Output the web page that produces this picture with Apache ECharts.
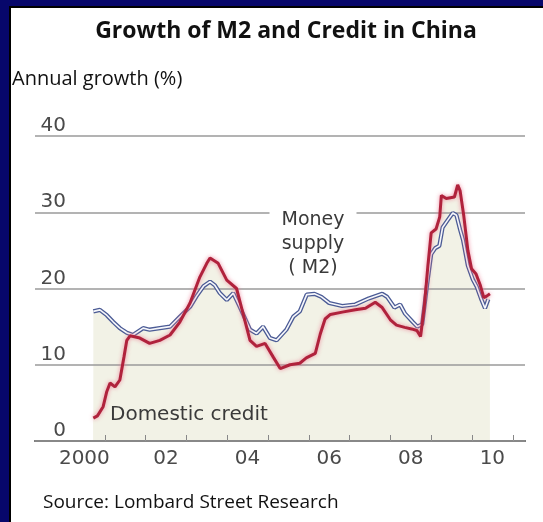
<!DOCTYPE html>
<html>
<head>
<meta charset="utf-8">
<script src="https://cdn.jsdelivr.net/npm/echarts@6/dist/echarts.min.js"></script>
<style>
  html, body { margin: 0; padding: 0; background: #fff; }
  #chart { width: 543px; height: 522px; }
</style>
</head>
<body>
<div id="chart"></div>
<script>
// Money supply (M2), annual growth %, by fractional year
const m2Dates = [2000.72, 2000.88, 2001.05, 2001.21, 2001.37, 2001.54, 2001.69, 2001.94, 2002.10, 2002.35,
  2002.60, 2002.84, 2003.09, 2003.25, 2003.42, 2003.58, 2003.70, 2003.82, 2003.99, 2004.15,
  2004.31, 2004.56, 2004.72, 2004.88, 2005.05, 2005.21, 2005.45, 2005.62, 2005.78, 2005.95,
  2006.14, 2006.31, 2006.50, 2006.82, 2007.14, 2007.47, 2007.80, 2007.92, 2008.10, 2008.24,
  2008.36, 2008.55, 2008.66, 2008.78, 2008.90, 2009.00, 2009.10, 2009.20, 2009.28, 2009.41,
  2009.53, 2009.62, 2009.71, 2009.78, 2009.90, 2010.02, 2010.12, 2010.22, 2010.32, 2010.40];
const m2Growth = [17.0, 17.2, 16.5, 15.6, 14.8, 14.2, 13.9, 14.8, 14.6, 14.8,
  15.0, 16.3, 17.6, 19.0, 20.3, 20.9, 20.4, 19.4, 18.5, 19.4,
  17.6, 14.6, 14.1, 15.0, 13.5, 13.2, 14.6, 16.3, 17.0, 19.2,
  19.3, 18.9, 18.1, 17.7, 17.9, 18.7, 19.3, 18.9, 17.5, 17.9,
  16.7, 15.6, 15.0, 15.3, 20.5, 24.5, 25.3, 25.6, 28.0, 29.0,
  29.9, 29.6, 27.7, 26.4, 23.0, 21.2, 20.2, 18.7, 17.4, 18.6];

// Domestic credit, annual growth %
const creditDates = [2000.72, 2000.82, 2000.96, 2001.05, 2001.13, 2001.25, 2001.37, 2001.47, 2001.54, 2001.62,
  2001.86, 2002.10, 2002.35, 2002.60, 2002.84, 2003.09, 2003.33, 2003.50, 2003.58, 2003.78,
  2003.99, 2004.23, 2004.39, 2004.56, 2004.72, 2004.93, 2005.13, 2005.30, 2005.54, 2005.78,
  2005.94, 2006.16, 2006.28, 2006.40, 2006.53, 2006.82, 2007.14, 2007.39, 2007.63, 2007.80,
  2008.00, 2008.15, 2008.35, 2008.52, 2008.65, 2008.74, 2008.83, 2008.92, 2009.00, 2009.12,
  2009.21, 2009.25, 2009.37, 2009.57, 2009.65, 2009.71, 2009.80, 2009.90, 2009.99, 2010.10,
  2010.20, 2010.29, 2010.36, 2010.44];
const creditGrowth = [3.0, 3.3, 4.5, 6.5, 7.6, 7.1, 8.0, 11.0, 13.2, 13.8,
  13.5, 12.8, 13.2, 13.9, 15.6, 18.1, 21.5, 23.3, 24.0, 23.3,
  21.1, 20.0, 16.7, 13.2, 12.4, 12.8, 11.0, 9.5, 10.0, 10.2,
  10.9, 11.5, 14.0, 16.0, 16.6, 16.9, 17.2, 17.4, 18.2, 17.5,
  15.9, 15.2, 14.9, 14.7, 14.5, 13.7, 17.5, 23.0, 27.3, 27.8,
  29.4, 32.2, 31.8, 32.0, 33.6, 32.8, 29.5, 25.0, 22.6, 21.9,
  20.5, 18.8, 19.0, 19.3];

// Axis labels
const yearLabelYears = [2000, 2002, 2004, 2006, 2008, 2010];
const yearLabels = ['2000', '02', '04', '06', '08', '10'];
const yearTickYears = [2001, 2002, 2003, 2004, 2005, 2006, 2007, 2008, 2009, 2010, 2011];

const zip = (xs, ys) => xs.map((x, i) => [x, ys[i]]);
const m2Data = zip(m2Dates, m2Growth);
const creditData = zip(creditDates, creditGrowth);

const FILL = '#f2f2e6';
const AXIS_FONT = '"DejaVu Sans", sans-serif';
const TEXT_FONT = '"Open Sans", sans-serif';
const NOTE_FONT = '"DejaVu Sans", sans-serif';

const chart = echarts.init(document.getElementById('chart'), null, { renderer: 'canvas' });

chart.setOption({
  animation: false,
  backgroundColor: '#fff',
  grid: { left: 35, right: 18, top: 136, bottom: 81, containLabel: false },
  xAxis: {
    type: 'value',
    min: 1999.29,
    max: 2011.30,
    axisLine: { show: true, lineStyle: { color: '#555', width: 2 } },
    axisTick: {
      show: true, inside: true, length: 6,
      customValues: yearTickYears,
      lineStyle: { color: '#888', width: 1 }
    },
    axisLabel: {
      customValues: yearLabelYears.map(y => y + 0.5),
      formatter: v => yearLabels[yearLabelYears.indexOf(Math.round(v - 0.5))],
      color: '#4a4a4a', fontFamily: AXIS_FONT, fontSize: 20, margin: 8
    },
    splitLine: { show: false }
  },
  yAxis: {
    type: 'value',
    min: 0, max: 40, interval: 10,
    z: 1,
    axisLine: { show: false },
    axisTick: { show: false },
    axisLabel: {
      color: '#4a4a4a', fontFamily: AXIS_FONT, fontSize: 20,
      align: 'right', verticalAlign: 'bottom', margin: -31
    },
    splitLine: { show: true, lineStyle: { color: '#9a9a9a', width: 1.5 } }
  },
  series: [
    { type: 'line', data: creditData, showSymbol: false, z: 0,
      lineStyle: { width: 0 }, areaStyle: { color: FILL, opacity: 1, origin: 'start' } },
    { type: 'line', data: m2Data, showSymbol: false, z: 0,
      lineStyle: { width: 0 }, areaStyle: { color: FILL, opacity: 1, origin: 'start' } },
    { type: 'line', data: m2Data, showSymbol: false, z: 3,
      lineStyle: { color: '#4b5b95', width: 4.2 } },
    { type: 'line', data: m2Data, showSymbol: false, z: 4,
      lineStyle: { color: '#f6f7fb', width: 1.6 } },
    { type: 'line', data: creditData, showSymbol: false, z: 5,
      lineStyle: { color: '#b0223c', width: 3, shadowColor: 'rgba(235,120,145,0.85)', shadowBlur: 4 } }
  ],
  graphic: [
    // frame
    { type: 'rect', z: 100, shape: { x: 0, y: 0, width: 11, height: 522 }, style: { fill: '#07076b' } },
    { type: 'rect', z: 100, shape: { x: 0, y: 0, width: 543, height: 8 }, style: { fill: '#07076b' } },
    { type: 'rect', z: 101, shape: { x: 9, y: 6, width: 2, height: 516 }, style: { fill: '#000' } },
    { type: 'rect', z: 101, shape: { x: 9, y: 6, width: 534, height: 2 }, style: { fill: '#000' } },
    // headings
    { type: 'text', z: 100, x: 286, y: 31,
      style: { text: 'Growth of M2 and Credit in China', font: 'bold 23px ' + TEXT_FONT, fill: '#111',
               align: 'center', verticalAlign: 'middle' } },
    { type: 'text', z: 100, x: 12, y: 79,
      style: { text: 'Annual growth (%)', font: '20px ' + TEXT_FONT, fill: '#111',
               align: 'left', verticalAlign: 'middle' } },
    { type: 'text', z: 100, x: 43, y: 503,
      style: { text: 'Source: Lombard Street Research', font: '19px ' + TEXT_FONT, fill: '#111',
               align: 'left', verticalAlign: 'middle' } },
    // series annotations
    { type: 'text', z: 100, x: 313, y: 244,
      style: { text: 'Money\nsupply\n( M2)', font: '19px ' + NOTE_FONT, fill: '#3a3a3a',
               lineHeight: 24, align: 'center', verticalAlign: 'middle',
               backgroundColor: '#fff', padding: [2, 12] } },
    { type: 'text', z: 100, x: 110, y: 415,
      style: { text: 'Domestic credit', font: '20px ' + NOTE_FONT, fill: '#3a3a3a',
               align: 'left', verticalAlign: 'middle' } }
  ]
});
</script>
</body>
</html>
